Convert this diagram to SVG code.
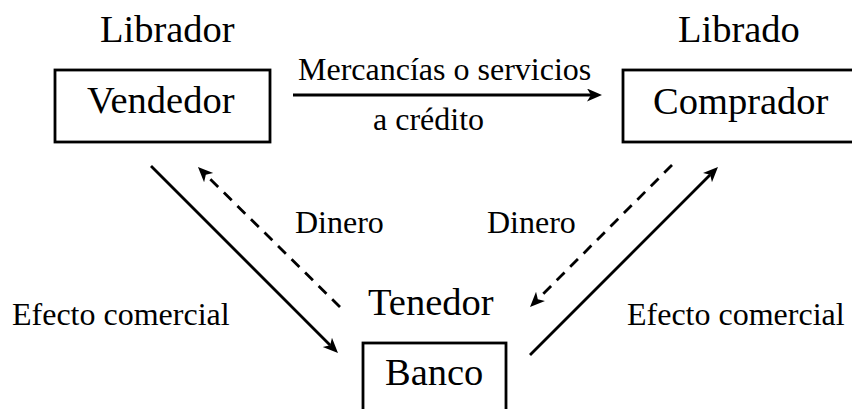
<svg xmlns="http://www.w3.org/2000/svg" width="852" height="409" viewBox="0 0 852 409">
<defs>
<style>
.big{font-family:"Liberation Serif","Times New Roman",serif;font-size:38.5px;fill:#000}
.sm{font-family:"Liberation Serif","Times New Roman",serif;font-size:32px;fill:#000}
.box{fill:#fff;stroke:#000;stroke-width:2.8}
.ln{stroke:#000;stroke-width:2.8;fill:none}
.dash{stroke-dasharray:11 8}
</style>
<marker id="ah" markerUnits="userSpaceOnUse" markerWidth="16" markerHeight="14" refX="4" refY="6.5" orient="auto">
<path d="M0,0 L15,6.5 L0,13 L4,6.5 z" fill="#000"/>
</marker>
</defs>
<rect width="852" height="409" fill="#fff"/>
<g id="vendedor">
<text class="big" x="100" y="42">Librador</text>
<rect class="box" x="55" y="70" width="215" height="72"/>
<text class="big" x="87" y="113">Vendedor</text>
</g>
<g id="comprador">
<text class="big" x="678" y="42">Librado</text>
<rect class="box" x="623" y="70" width="240" height="72"/>
<text class="big" x="653" y="114">Comprador</text>
</g>
<g id="banco">
<text class="big" x="368" y="315">Tenedor</text>
<rect class="box" x="363" y="343" width="143" height="80"/>
<text class="big" x="385" y="385">Banco</text>
</g>
<g id="connectors">
<line class="ln" x1="293" y1="95" x2="591" y2="95" marker-end="url(#ah)"/>
<line class="ln" x1="151" y1="166" x2="330.2" y2="345.2" marker-end="url(#ah)"/>
<line class="ln dash" x1="340" y1="307" x2="205.8" y2="174.8" marker-end="url(#ah)"/>
<line class="ln dash" x1="672" y1="165" x2="537.8" y2="299.2" marker-end="url(#ah)"/>
<line class="ln" x1="530" y1="355" x2="710.2" y2="174.8" marker-end="url(#ah)"/>
</g>
<g id="labels">
<text class="sm" x="298" y="80">Mercancías o servicios</text>
<text class="sm" x="373" y="130">a crédito</text>
<text class="sm" x="295" y="233">Dinero</text>
<text class="sm" x="487" y="233">Dinero</text>
<text class="sm" x="12" y="325">Efecto comercial</text>
<text class="sm" x="627" y="325">Efecto comercial</text>
</g>
</svg>
